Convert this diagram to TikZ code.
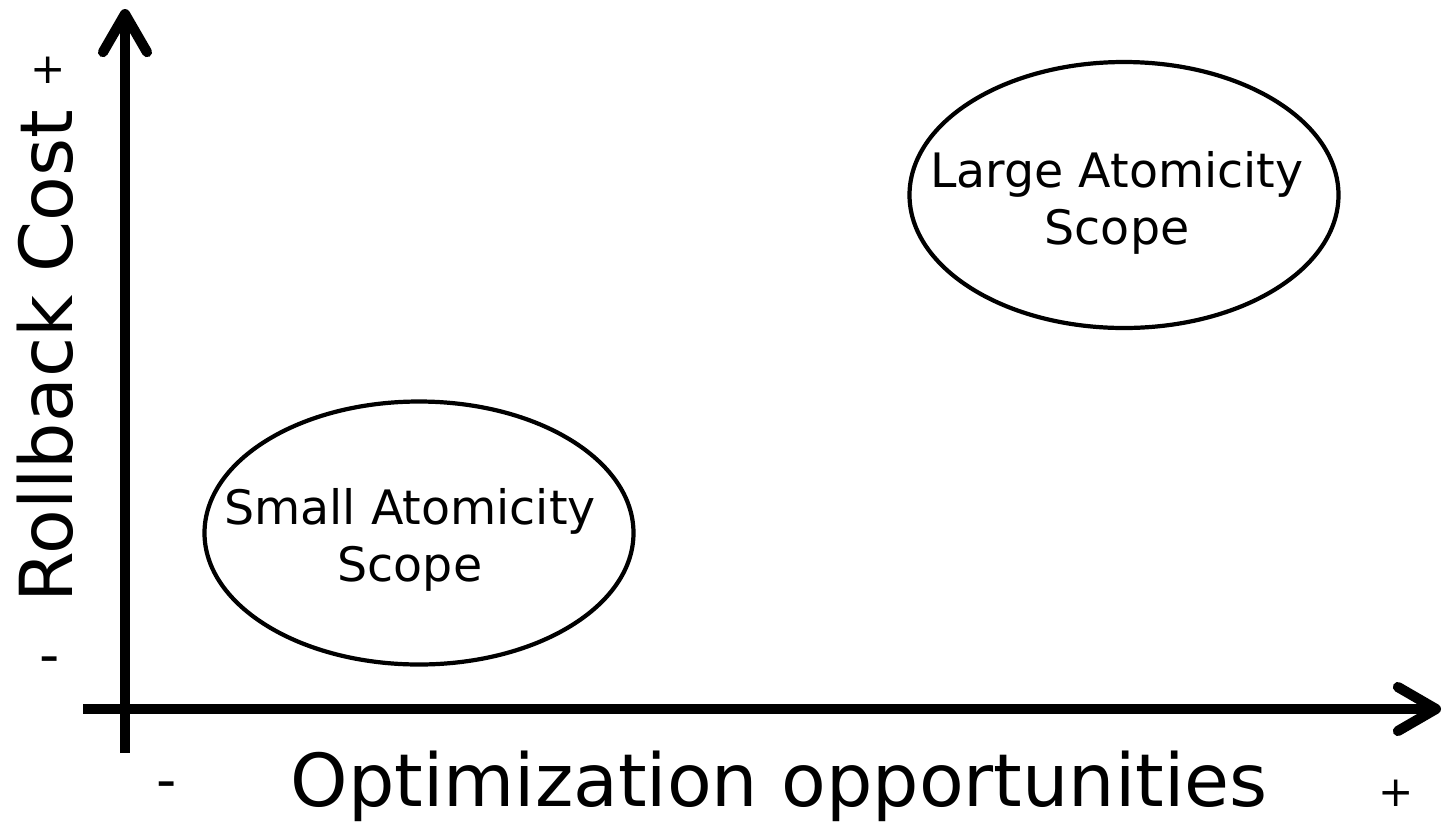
\documentclass[tikz,border=0pt]{standalone}
\usepackage{fontspec}
\setmainfont{DejaVu Sans}
\usepackage{tikz}
\usetikzlibrary{arrows.meta,shapes.geometric,positioning}

\begin{document}
\begin{tikzpicture}[
    axisline/.style={line width=2.9pt,
      -{Straight Barb[length=3.8mm, width=4.4mm, line cap=round, line join=round]}},
    scopeshape/.style={ellipse, draw, line width=1.2pt, inner sep=0pt,
      minimum width=4.29cm},
    scopetext/.style={align=center, font=\fontsize{13.5}{16.2}\selectfont},
    axislabel/.style={anchor=base, font=\fontsize{20.8}{24}\selectfont},
    signlabel/.style={font=\fontsize{12}{14}\selectfont, inner sep=0pt},
    minuslabel/.style={font=\fontsize{16}{18}\selectfont, inner sep=0pt}]
  \useasboundingbox (0,0) rectangle (14.43,8.30);
  % axes
  \coordinate (ybot) at (1.25,0.77);
  \coordinate (ytop) at (1.25,8.21);
  \coordinate (xleft) at (0.83,1.21);
  \coordinate (xright) at (14.41,1.21);
  \draw[axisline] (ybot) -- (ytop);
  \draw[axisline] (xleft) -- (xright);
  \node[axislabel, rotate=90] (costlabel) at (0.72,4.74) {Rollback Cost};
  \node[axislabel] (optlabel) at (7.79,0.24) {Optimization opportunities};
  % signs at the axis ends
  \node[signlabel] (costplus) at (0.48,7.60) {+};
  \node[minuslabel] (costminus) at (0.50,1.64) {-};
  \node[minuslabel] (optminus) at (1.67,0.39) {-};
  \node[signlabel] (optplus) at (13.96,0.37) {+};
  % atomicity scopes
  \node[scopeshape, minimum height=2.66cm] (largescope) at (11.24,6.35) {};
  \node[scopetext] (largetext) at (11.17,6.27) {Large Atomicity\\Scope};
  \node[scopeshape, minimum height=2.63cm] (smallscope) at (4.19,2.97) {};
  \node[scopetext] (smalltext) at (4.10,2.90) {Small Atomicity\\Scope};
\end{tikzpicture}
\end{document}
